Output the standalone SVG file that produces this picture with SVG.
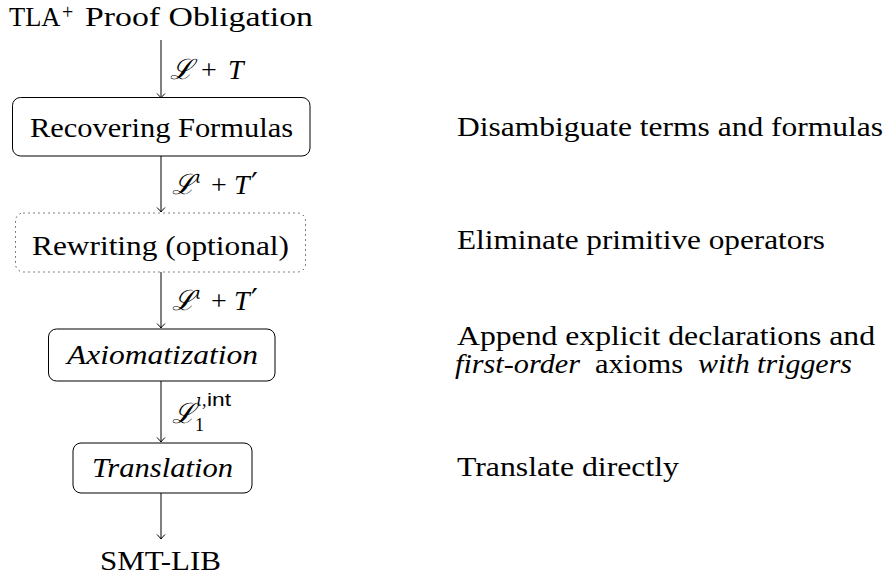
<svg xmlns="http://www.w3.org/2000/svg" width="886" height="581" viewBox="0 0 886 581">
<style>
text{font-family:"Liberation Serif","DejaVu Serif",serif;font-size:28px;fill:#000}
.it{font-style:italic}
.box{fill:none;stroke:#000;stroke-width:1}
.dot{fill:none;stroke:#000;stroke-width:1;stroke-dasharray:1 4}
.edge{stroke:#000;stroke-width:1;fill:none}
.m{font-family:"DejaVu Serif","Liberation Serif",serif}
.sf{font-family:"Liberation Sans","DejaVu Sans",sans-serif}
.sup{font-size:16px}
.pr{font-family:"DejaVu Serif",serif;font-size:30px}
</style>
<defs>
<marker id="to" viewBox="-6 -6 12 12" refX="0" refY="0" markerWidth="12" markerHeight="12" orient="auto" markerUnits="userSpaceOnUse">
<path d="M-4.5,-4 Q-1.5,-1 0,0 Q-1.5,1 -4.5,4" fill="none" stroke="#000" stroke-width="1"/>
</marker>
</defs>
<rect width="886" height="581" fill="#fff"/>
<g id="start">
<text y="26"><tspan x="9" style="font-size:26.5px">TLA</tspan><tspan x="62" y="19" style="font-size:20px">+</tspan><tspan x="85" y="26" textLength="228" lengthAdjust="spacingAndGlyphs">Proof Obligation</tspan></text>
</g>
<g id="recovering">
<rect class="box" x="12.5" y="97.5" width="297.5" height="58.5" rx="8"/>
<text x="30" y="137" textLength="263" lengthAdjust="spacingAndGlyphs">Recovering Formulas</text>
</g>
<g id="rewriting">
<rect class="dot" x="15.5" y="213" width="290" height="59" rx="8"/>
<text x="32" y="255" textLength="257" lengthAdjust="spacingAndGlyphs">Rewriting (optional)</text>
</g>
<g id="axiomatization">
<rect class="box" x="48.5" y="329" width="226.5" height="52" rx="8"/>
<text class="it" x="67" y="364" textLength="191" lengthAdjust="spacingAndGlyphs">Axiomatization</text>
</g>
<g id="translation">
<rect class="box" x="73" y="443" width="179" height="50" rx="8"/>
<text class="it" x="92" y="477" textLength="141" lengthAdjust="spacingAndGlyphs">Translation</text>
</g>
<g id="smtlib">
<text x="100" y="570" textLength="121" lengthAdjust="spacingAndGlyphs">SMT-LIB</text>
</g>
<g id="connectors">
<line class="edge" x1="161" y1="40" x2="161" y2="98" marker-end="url(#to)"/>
<line class="edge" x1="161" y1="156" x2="161" y2="212" marker-end="url(#to)"/>
<line class="edge" x1="161" y1="272" x2="161" y2="328" marker-end="url(#to)"/>
<line class="edge" x1="161" y1="381" x2="161" y2="442" marker-end="url(#to)"/>
<line class="edge" x1="161" y1="493" x2="161" y2="539" marker-end="url(#to)"/>
</g>
<g id="labels">
<text y="79"><tspan class="m it" x="170">ℒ</tspan><tspan x="201">+</tspan><tspan class="it" x="228">T</tspan></text>
<text y="194"><tspan class="m it" x="172">ℒ</tspan><tspan class="m it sup" x="195" y="183">ι</tspan><tspan x="211" y="194">+</tspan><tspan class="it" x="234">T</tspan><tspan class="pr" x="251">′</tspan></text>
<text y="310"><tspan class="m it" x="172">ℒ</tspan><tspan class="m it sup" x="195" y="299">ι</tspan><tspan x="211" y="310">+</tspan><tspan class="it" x="234">T</tspan><tspan class="pr" x="251">′</tspan></text>
<text y="423"><tspan class="m it" x="172">ℒ</tspan><tspan x="195" y="431" style="font-size:18px">1</tspan><tspan class="m it sup" x="196" y="406">ι</tspan><tspan x="202" style="font-size:18px">,</tspan><tspan class="sf" x="207" style="font-size:18px" textLength="24" lengthAdjust="spacingAndGlyphs">int</tspan></text>
</g>
<g id="notes">
<text x="457" y="136" textLength="426" lengthAdjust="spacingAndGlyphs">Disambiguate terms and formulas</text>
<text x="457" y="249" textLength="368" lengthAdjust="spacingAndGlyphs">Eliminate primitive operators</text>
<text x="457" y="345" textLength="418" lengthAdjust="spacingAndGlyphs">Append explicit declarations and</text>
<text y="373"><tspan class="it" x="455" textLength="125" lengthAdjust="spacingAndGlyphs">first-order</tspan><tspan x="595" textLength="88" lengthAdjust="spacingAndGlyphs">axioms</tspan><tspan class="it" x="698" textLength="154" lengthAdjust="spacingAndGlyphs">with triggers</tspan></text>
<text x="457" y="476" textLength="222" lengthAdjust="spacingAndGlyphs">Translate directly</text>
</g>
</svg>
